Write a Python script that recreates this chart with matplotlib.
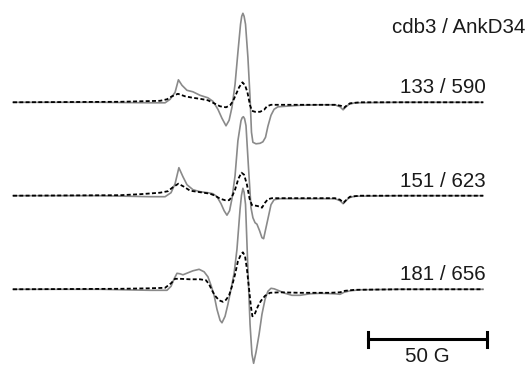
import matplotlib
matplotlib.use('Agg')
import matplotlib.pyplot as plt

# field in G (relative), intensity in arbitrary units
# solid grey = first spectrum, dashed black = second spectrum of each pair
labels = ['133 / 590', '151 / 623', '181 / 656']
title = 'cdb3 / AnkD34'
offsets = [263.7, 170.3, 76.7]

s1_field = [0, 36.6, 57.6, 63.9, 66.0, 68.1, 69.5, 71.0, 73.1, 75.6, 78.6, 81.9, 84.0, 86.1, 87.8,
            89.5, 90.8, 92.0, 93.3, 94.5, 95.6, 96.1, 96.6, 97.1, 97.7, 98.7, 99.6, 100.2, 100.8, 102.1,
            103.8, 105.0, 106.1, 107.1, 108.4, 109.7, 111.3, 114.3, 120.6, 129.0, 135.3, 137.4,
            138.7, 139.9, 141.2, 143.7, 162.6, 197.5]
s1_int = [0, 0, -0.5, -0.5, 3, 10, 22.5, 17, 12, 10.5, 7, 4.5, 1, -7, -16,
          -23.5, -18, -5, 18, 50, 78, 86, 89, 86, 78, 45, 5, -30, -40, -41.5,
          -41, -39.5, -35, -24, -13, -7, -4.5, -4, -3, -2.5, -2.5, -4.5,
          -7.5, -4.5, -2, -0.5, 0, 0]
d1_field = [0, 45.0, 61.8, 64.7, 66.8, 69.3, 72.3, 75.6, 78.6, 81.9, 84.5, 87.0, 89.5, 91.2, 92.4,
            93.7, 95.0, 96.4, 97.5, 98.5, 99.6, 100.4, 101.7, 103.8, 105.5, 106.7, 108.4, 112.2,
            135.3, 137.8, 139.1, 140.3, 141.6, 145.8, 197.5]
d1_int = [0, 0.5, 1.5, 3, 6, 8.5, 6, 4.5, 3.5, 2, -1, -4, -5, -3, 1,
          8, 15, 20, 17, 10, -3, -8.5, -9.5, -9.5, -7.5, -4, -2.5, -2.5,
          -2.5, -3.5, -5.5, -3, -1, 0, 0]

s2_field = [0, 36.6, 57.6, 63.9, 66.4, 68.1, 69.7, 71.4, 73.1, 75.6, 78.6, 81.9, 84.0, 85.7, 87.4,
            88.7, 89.9, 91.0, 92.0, 93.3, 94.5, 95.8, 96.3, 96.8, 97.3, 97.9, 98.9, 100.0, 100.8,
            101.7, 102.5, 103.6, 104.6, 105.3, 106.3, 107.4, 108.4, 109.7, 112.2, 120.6, 135.3,
            137.4, 138.7, 139.9, 141.2, 143.7, 162.6, 197.5]
s2_int = [0, 0, -1, -1, 3, 12, 28, 19, 11, 6, 4, 3, 2, -1, -8,
          -15, -19.5, -15, -3, 20, 55, 75, 78, 79, 77, 70, 30, -12, -22,
          -27, -28.5, -35, -42, -43, -32, -20, -9, -4, -3, -3, -3,
          -5, -8, -5, -2, -0.5, 0, 0]
d2_field = [0, 45.0, 53.4, 61.8, 65.1, 67.2, 69.5, 71.8, 74.4, 78.6, 82.8, 84.9, 87.0, 89.1, 90.8,
            92.0, 93.3, 94.7, 96.0, 97.1, 98.3, 99.4, 100.4, 102.1, 103.8, 104.6, 105.9, 107.1,
            108.8, 120.6, 135.3, 137.4, 138.9, 140.3, 141.6, 145.8, 197.5]
d2_int = [0, 0.5, 1.5, 3, 4.5, 8.5, 12, 9, 5, 3.5, 2, 0, -3, -4.5, -4.5,
          -1, 6, 17, 23, 21, 11, -3, -9.5, -10, -11, -12, -7, -3.5,
          -2.5, -2.5, -2.5, -4, -7, -3.5, -1, 0, 0]

s3_field = [0, 36.6, 57.6, 64.7, 66.4, 67.6, 68.9, 70.2, 71.4, 73.5, 75.6, 78.2, 80.3, 81.9, 83.2,
            84.5, 85.7, 87.0, 87.8, 89.1, 90.3, 91.6, 92.9, 94.1, 95.4, 96.0, 96.6, 97.1, 97.7,
            98.7, 99.6, 100.4, 101.1, 102.1, 103.4, 104.6, 105.9, 107.1, 108.4, 109.7, 111.3,
            114.3, 117.2, 120.6, 124.8, 129.0, 135.3, 137.4, 139.1, 141.6, 145.8, 162.6, 197.5]
s3_int = [0, 0, -1, -1, 3, 10, 16, 15.5, 14.5, 16.5, 18.5, 20, 17.5, 12.5, 4,
          -6, -20, -31, -33.5, -27, -15, 0, 16, 40, 80, 94, 101, 97, 85,
          20, -35, -65, -74, -63, -45, -25, -10, -2, 1, 0.5, -1,
          -4, -6, -6, -4.5, -4, -4.5, -5, -3, -1.5, -0.5, 0, 0]
d3_field = [0, 45.0, 57.6, 63.9, 66.4, 68.1, 70.2, 74.4, 78.6, 81.1, 82.4, 83.6, 84.9, 86.6, 88.2,
            89.5, 90.8, 92.0, 93.3, 94.5, 95.8, 96.6, 97.5, 98.3, 99.2, 100.0, 100.6, 101.7,
            102.9, 104.2, 105.9, 108.0, 112.2, 120.6, 133.2, 137.4, 139.5, 143.7, 162.6, 197.5]
d3_int = [0, 0.5, 1, 1.5, 6, 10.5, 10.5, 10, 10, 9, 5, -1, -6.5, -11, -12.5,
          -10.5, -6, 3, 15, 28, 35, 37, 33, 20, 0, -18, -27, -24,
          -17, -11.5, -6.5, -3.5, -3, -3.5, -3.5, -3, -1.5, -0.5, 0, 0]

scale_start = 149.2
scale_len = 50

solid = [(s1_field, s1_int), (s2_field, s2_int), (s3_field, s3_int)]
dashed = [(d1_field, d1_int), (d2_field, d2_int), (d3_field, d3_int)]

plt.rcParams['font.family'] = ['Liberation Sans', 'DejaVu Sans']

fig = plt.figure(figsize=(5.27, 3.66), dpi=100)
ax = fig.add_axes([0, 0, 1, 1])
ax.set_xlim(-13 / 2.38, 514 / 2.38)
ax.set_ylim(0, 366)
ax.axis('off')

for (sf, si), (df, di), off, lab in zip(solid, dashed, offsets, labels):
    ax.plot(sf, [v + off for v in si], color='#8a8a8a', lw=1.2, solid_joinstyle='round')
    ax.plot(df, [v + off for v in di], color='black', lw=1.3, linestyle=(0, (2.2, 1.3)))
    ax.text(198.5, off + 9, lab, ha='right', va='baseline', fontsize=14.8, color='#1a1a1a')

ax.text(0.996, 0.91, title, transform=ax.transAxes, ha='right', va='baseline',
        fontsize=14.8, color='#1a1a1a')

# 50 G scale bar
ybar = 26.7
ax.plot([scale_start, scale_start + scale_len], [ybar, ybar], color='black', lw=2.2)
for xe in [scale_start, scale_start + scale_len]:
    ax.plot([xe, xe], [ybar - 7.8, ybar + 7.8], color='black', lw=2.2)
ax.text(scale_start + scale_len / 2, 4.5, '50 G', ha='center', va='baseline',
        fontsize=14.8, color='#1a1a1a')

fig.savefig('out.png', dpi=100)
